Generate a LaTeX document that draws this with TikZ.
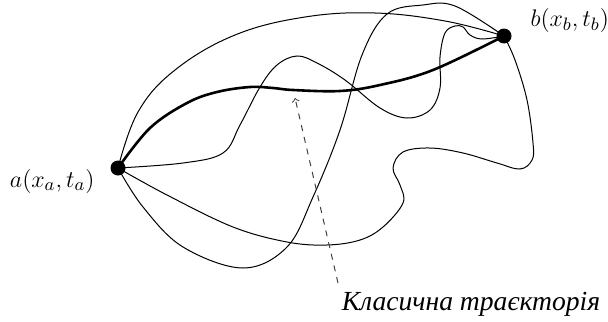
\documentclass[tikz,border=0pt]{standalone}
\usepackage{fontspec}
\newfontfamily\cyrfont{Liberation Serif}
\begin{document}
\begin{tikzpicture}[x=.5pt,y=-.5pt,line width=.5pt,
  every node/.style={font=\fontsize{12.5}{15}\selectfont,inner sep=1pt},
  path/.style={line width=.5pt},
  classic/.style={line width=1.3pt},
  endpoint/.style={fill,radius=7.5}]
  \path[use as bounding box] (0,0) rectangle (608,321);
  \coordinate (a) at (118,168);
  \coordinate (b) at (504,36);
  % paths from a to b
  \draw[path] plot[smooth,tension=.65] coordinates {(a) (138,112) (175,70) (235,35)
    (305,17) (375,13) (445,21) (b)};
  \draw[path] plot[smooth,tension=.6] coordinates {(a) (143,207) (183,247) (243,268)
    (287,247) (313,197) (340,130) (362,55) (387,14) (423,5) (455,6) (b)};
  \draw[path] plot[smooth,tension=.6] coordinates {(a) (183,163) (223,153) (240,125)
    (260,87) (277,65) (297,56) (317,63) (345,80) (380,108) (407,118) (430,110)
    (440,88) (440,57) (445,33) (455,26) (463,27) (470,35) (482,39) (b)};
  \draw[path] plot[smooth,tension=.6] coordinates {(a) (167,195) (233,227) (287,242)
    (327,245) (360,240) (383,227) (403,203) (400,185) (393,168) (403,152) (430,148)
    (463,153) (497,163) (520,169) (532,160) (533,143) (527,100) (515,60) (b)};
  \draw[classic] plot[smooth,tension=.6] coordinates {(a) (150,128) (187,103) (217,92)
    (250,87) (273,88) (293,90) (340,91) (380,85) (433,70) (b)};
  \fill[endpoint] (a) circle;
  \fill[endpoint] (b) circle;
  \node[anchor=east] at (97,181) {$a(x_a,t_a)$};
  \node[anchor=west] at (528,20) {$b(x_b,t_b)$};
  \node (lbl) at (471,304) {\cyrfont\fontsize{13.8}{16}\selectfont\itshape Класична траєкторія};
  \draw[->,dashed,black!75] (338,283) -- (295,98);
\end{tikzpicture}
\end{document}
